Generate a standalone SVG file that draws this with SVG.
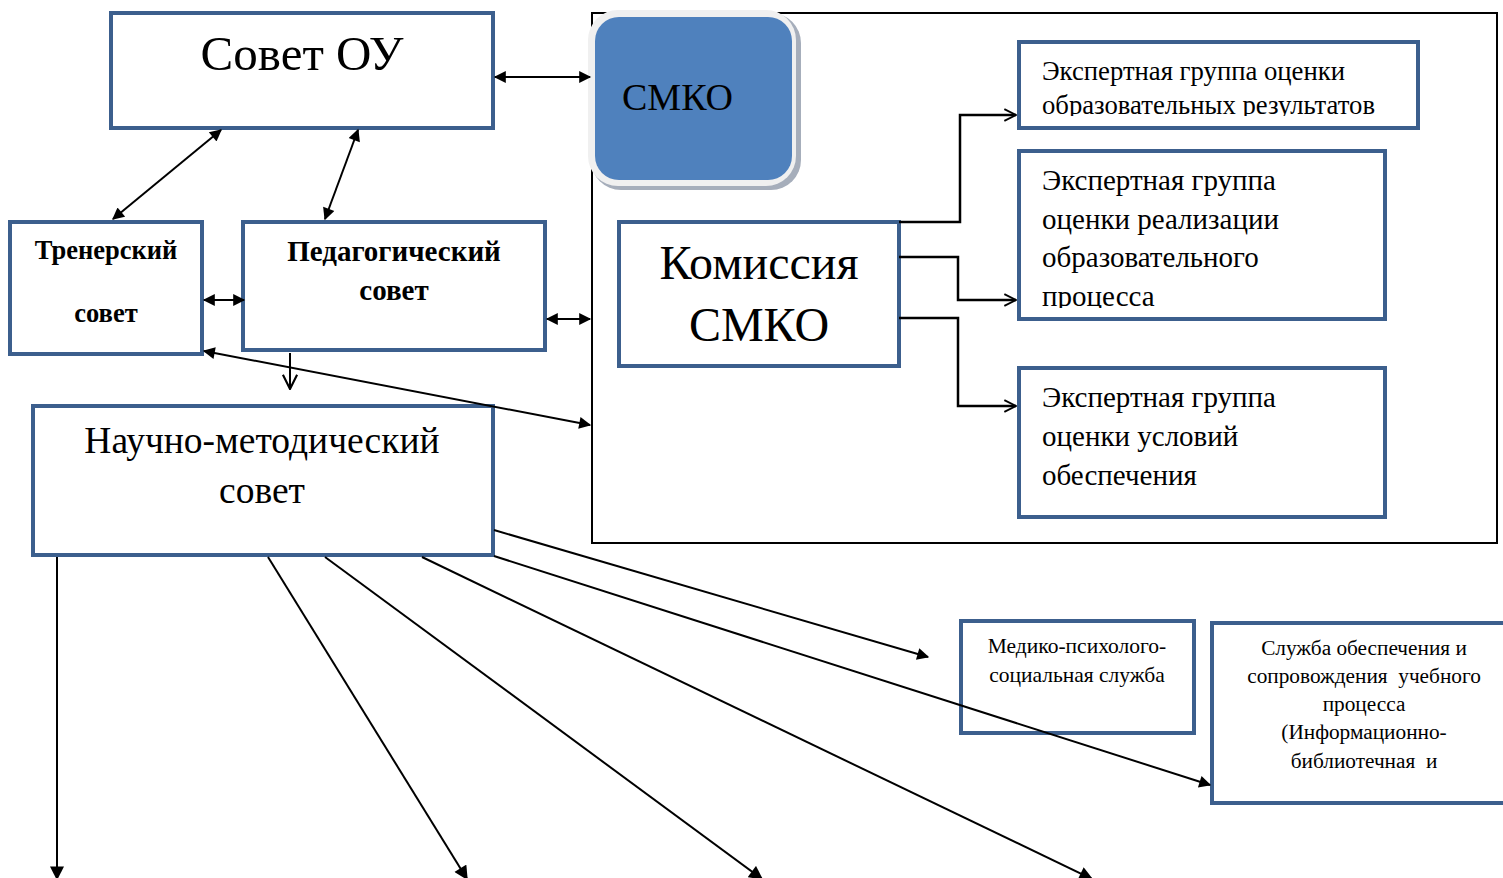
<svg xmlns="http://www.w3.org/2000/svg" width="1503" height="878" viewBox="0 0 1503 878">
<style>
.box{fill:#fff;stroke:#3c5f8d;stroke-width:4}
.t{font-family:"Liberation Serif","Times New Roman",serif;fill:#000}
.b{font-weight:bold}
.ln{fill:none;stroke:#000;stroke-width:2}
.el{fill:none;stroke:#000;stroke-width:2.5}
</style>
<defs>
<marker id="af" viewBox="0 0 10 10" refX="9" refY="5" markerWidth="15" markerHeight="14" markerUnits="userSpaceOnUse" orient="auto-start-reverse"><path d="M0,0 L10,5 L0,10 z" fill="#000"/></marker>
<marker id="af2" viewBox="0 0 10 10" refX="9" refY="5" markerWidth="14" markerHeight="12" markerUnits="userSpaceOnUse" orient="auto-start-reverse"><path d="M0,0 L10,5 L0,10 z" fill="#000"/></marker>
<marker id="ao" viewBox="0 0 12 12" refX="11" refY="6" markerWidth="14" markerHeight="14" markerUnits="userSpaceOnUse" orient="auto"><path d="M1,1 L11,6 L1,11" fill="none" stroke="#000" stroke-width="1.6"/></marker>
<marker id="ao2" viewBox="0 0 12 12" refX="11" refY="6" markerWidth="17" markerHeight="19" markerUnits="userSpaceOnUse" orient="auto"><path d="M1,1 L11,6 L1,11" fill="none" stroke="#000" stroke-width="1.5"/></marker>
<clipPath id="c1"><rect x="1020" y="44" width="396" height="72"/></clipPath>
<clipPath id="c2"><rect x="1020" y="153" width="363" height="155"/></clipPath>
<clipPath id="c3"><rect x="1020" y="370" width="363" height="134"/></clipPath>
</defs>

<rect x="592" y="13" width="905" height="530" fill="none" stroke="#000" stroke-width="2"/>

<g id="sovet-ou">
<rect class="box" x="111" y="13" width="382" height="115"/>
<text class="t" x="302" y="70" font-size="49" text-anchor="middle">Совет ОУ</text>
</g>

<g id="smko">
<rect x="591" y="13" width="210" height="177" rx="30" fill="#a6aebb"/>
<rect x="588" y="10" width="208" height="176" rx="30" fill="#f0f0f0"/>
<rect x="595" y="17" width="197" height="163" rx="24" fill="#4f81bd"/>
<text class="t" x="622" y="110" font-size="38">СМКО</text>
</g>

<g id="exp1">
<rect class="box" x="1019" y="42" width="399" height="86"/>
<g clip-path="url(#c1)" class="t" font-size="26.7">
<text x="1042" y="80">Экспертная группа оценки</text>
<text x="1042" y="114">образовательных результатов</text>
</g>
</g>

<g id="exp2">
<rect class="box" x="1019" y="151" width="366" height="168"/>
<g clip-path="url(#c2)" class="t" font-size="29">
<text x="1042" y="190">Экспертная группа</text>
<text x="1042" y="229">оценки реализации</text>
<text x="1042" y="267">образовательного</text>
<text x="1042" y="306">процесса</text>
</g>
</g>

<g id="exp3">
<rect class="box" x="1019" y="368" width="366" height="149"/>
<g clip-path="url(#c3)" class="t" font-size="29">
<text x="1042" y="407">Экспертная группа</text>
<text x="1042" y="446">оценки условий</text>
<text x="1042" y="485">обеспечения</text>
</g>
</g>

<g id="komissiya">
<rect class="box" x="619" y="222" width="280" height="144"/>
<text class="t" x="759" y="279" font-size="48" text-anchor="middle">Комиссия</text>
<text class="t" x="759" y="341" font-size="48" text-anchor="middle">СМКО</text>
</g>

<g id="trener">
<rect class="box" x="10" y="222" width="192" height="132"/>
<text class="t b" x="106" y="259" font-size="26.5" text-anchor="middle">Тренерский</text>
<text class="t b" x="106" y="322" font-size="26.5" text-anchor="middle">совет</text>
</g>

<g id="ped">
<rect class="box" x="243" y="222" width="302" height="128"/>
<text class="t b" x="394" y="261" font-size="29" text-anchor="middle">Педагогический</text>
<text class="t b" x="394" y="300" font-size="29" text-anchor="middle">совет</text>
</g>

<g id="nms">
<rect class="box" x="33" y="406" width="460" height="149"/>
<text class="t" x="262" y="453" font-size="37.5" text-anchor="middle">Научно-методический</text>
<text class="t" x="262" y="503" font-size="37.5" text-anchor="middle">совет</text>
</g>

<g id="medico">
<rect class="box" x="961" y="621" width="233" height="112"/>
<text class="t" x="1077" y="653" font-size="21.5" text-anchor="middle">Медико-психолого-</text>
<text class="t" x="1077" y="682" font-size="21.5" text-anchor="middle">социальная служба</text>
</g>

<g id="sluzhba">
<rect class="box" x="1212" y="623" width="295" height="180"/>
<g class="t" font-size="21.3" text-anchor="middle">
<text x="1364" y="655">Служба обеспечения и</text>
<text x="1364" y="683" xml:space="preserve">сопровождения  учебного</text>
<text x="1364" y="711">процесса</text>
<text x="1364" y="739">(Информационно-</text>
<text x="1364" y="768" xml:space="preserve">библиотечная  и</text>
</g>
</g>

<g id="connectors">
<line class="ln" x1="495" y1="77" x2="590" y2="77" marker-start="url(#af2)" marker-end="url(#af2)"/>
<line class="ln" x1="221" y1="130" x2="113" y2="219" marker-start="url(#af2)" marker-end="url(#af2)"/>
<line class="ln" x1="358" y1="130" x2="325" y2="219" marker-start="url(#af2)" marker-end="url(#af2)"/>
<line class="ln" x1="204" y1="300" x2="244" y2="300" marker-start="url(#af2)" marker-end="url(#af2)"/>
<line class="ln" x1="547" y1="319" x2="590" y2="319" marker-start="url(#af2)" marker-end="url(#af2)"/>
<line class="ln" x1="204" y1="351" x2="590" y2="425" marker-start="url(#af2)" marker-end="url(#af2)"/>
<line class="ln" x1="290" y1="353" x2="290" y2="389" marker-end="url(#ao2)"/>
<polyline class="el" points="899,222 960,222 960,115 1016,115" marker-end="url(#ao)"/>
<polyline class="el" points="899,257 958,257 958,300 1016,300" marker-end="url(#ao)"/>
<polyline class="el" points="899,318 958,318 958,406 1016,406" marker-end="url(#ao)"/>
<line class="ln" x1="57" y1="557" x2="57" y2="879" marker-end="url(#af)"/>
<line class="ln" x1="268" y1="557" x2="467" y2="879" marker-end="url(#af)"/>
<line class="ln" x1="325" y1="557" x2="762" y2="879" marker-end="url(#af)"/>
<line class="ln" x1="422" y1="557" x2="1092" y2="879" marker-end="url(#af)"/>
<line class="ln" x1="494" y1="530" x2="928" y2="657" marker-end="url(#af2)"/>
<line class="ln" x1="494" y1="556" x2="1210" y2="785" marker-end="url(#af2)"/>
</g>
</svg>
